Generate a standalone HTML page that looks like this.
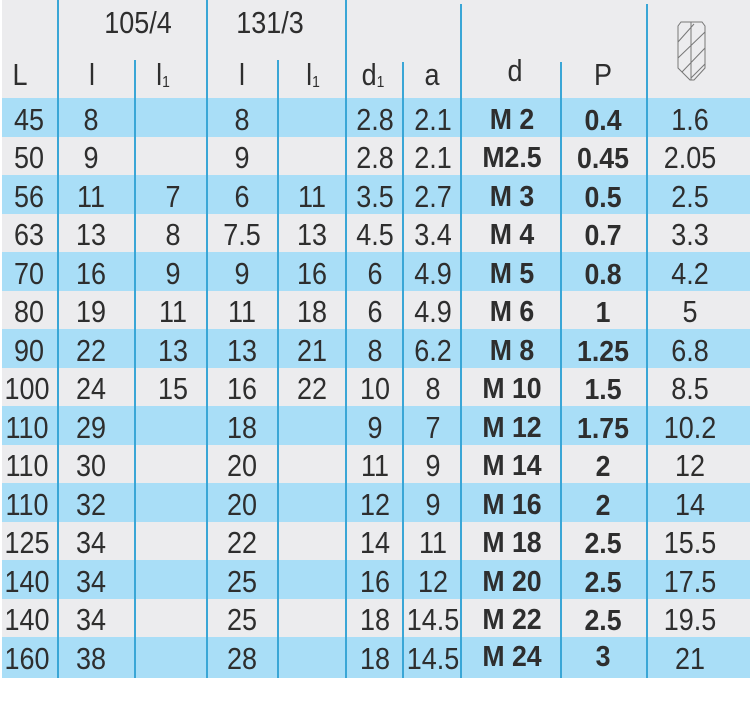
<!DOCTYPE html>
<html><head><meta charset="utf-8"><style>
body{margin:0;width:750px;height:702px;background:#fff;overflow:hidden;position:relative;font-family:"Liberation Sans",sans-serif;color:#2e2e2e}
.bg{position:absolute;left:2px;width:748px}
.v{position:absolute;width:2px;background:#3aa6d6}
.t{position:absolute;width:100px;text-align:center;font-size:31px;line-height:38px;height:38px;transform:scaleX(0.87)}
.b{font-weight:bold;font-size:29px;transform:scaleX(0.92)}
sub{font-size:16px;vertical-align:baseline;position:relative;top:2px}
</style></head><body>
<div class="bg" style="top:0;height:98px;background:#ececee"></div>
<div class="bg" style="top:98px;height:39px;background:#a9def7"></div>
<div class="bg" style="top:137px;height:38px;background:#ececee"></div>
<div class="bg" style="top:175px;height:39px;background:#a9def7"></div>
<div class="bg" style="top:214px;height:38px;background:#ececee"></div>
<div class="bg" style="top:252px;height:39px;background:#a9def7"></div>
<div class="bg" style="top:291px;height:38px;background:#ececee"></div>
<div class="bg" style="top:329px;height:39px;background:#a9def7"></div>
<div class="bg" style="top:368px;height:38px;background:#ececee"></div>
<div class="bg" style="top:406px;height:39px;background:#a9def7"></div>
<div class="bg" style="top:445px;height:38px;background:#ececee"></div>
<div class="bg" style="top:483px;height:39px;background:#a9def7"></div>
<div class="bg" style="top:522px;height:38px;background:#ececee"></div>
<div class="bg" style="top:560px;height:39px;background:#a9def7"></div>
<div class="bg" style="top:599px;height:38px;background:#ececee"></div>
<div class="bg" style="top:637px;height:41px;background:#a9def7"></div>

<div class="v" style="left:57px;top:0;height:678px"></div>
<div class="v" style="left:134px;top:60px;height:618px"></div>
<div class="v" style="left:206px;top:0;height:678px"></div>
<div class="v" style="left:277px;top:60px;height:618px"></div>
<div class="v" style="left:345px;top:0;height:678px"></div>
<div class="v" style="left:402px;top:62px;height:616px"></div>
<div class="v" style="left:460px;top:4px;height:674px"></div>
<div class="v" style="left:560px;top:62px;height:616px"></div>
<div class="v" style="left:646px;top:4px;height:674px"></div>

<div class="t" style="left:88px;top:4px">105/4</div>
<div class="t" style="left:220px;top:4px">131/3</div>
<div class="t" style="left:-30px;top:56px">L</div>
<div class="t" style="left:42px;top:56px">l</div>
<div class="t" style="left:113px;top:56px">l<sub>1</sub></div>
<div class="t" style="left:192px;top:56px">l</div>
<div class="t" style="left:263px;top:56px">l<sub>1</sub></div>
<div class="t" style="left:323px;top:56px">d<sub>1</sub></div>
<div class="t" style="left:382px;top:56px">a</div>
<div class="t" style="left:465px;top:52px">d</div>
<div class="t" style="left:553px;top:56px">P</div>
<svg style="position:absolute;left:676px;top:20px" width="32" height="64" viewBox="0 0 32 64" fill="none" stroke="#777" stroke-width="1">
<path d="M2 6 L2 48 L14 60 L18 60 L29 48 L29 6 L26 2 L5 2 Z"/>
<path d="M15 2 L15 60"/><path d="M2 22 L18 4"/><path d="M2 38 L29 12"/><path d="M6 52 L29 28"/><path d="M15 58 L29 44"/>
</svg>

<div style="position:absolute;left:0;top:0">
<div class="t" style="left:-21px;top:101px">45</div><div class="t" style="left:41px;top:101px">8</div><div class="t" style="left:192px;top:101px">8</div><div class="t" style="left:325px;top:101px">2.8</div><div class="t" style="left:383px;top:101px">2.1</div><div class="t b" style="left:462px;top:101px">M 2</div><div class="t b" style="left:553px;top:102px">0.4</div><div class="t" style="left:640px;top:101px">1.6</div>
<div class="t" style="left:-21px;top:139px">50</div><div class="t" style="left:41px;top:139px">9</div><div class="t" style="left:192px;top:139px">9</div><div class="t" style="left:325px;top:139px">2.8</div><div class="t" style="left:383px;top:139px">2.1</div><div class="t b" style="left:462px;top:139px">M2.5</div><div class="t b" style="left:553px;top:140px">0.45</div><div class="t" style="left:640px;top:139px">2.05</div>
<div class="t" style="left:-21px;top:178px">56</div><div class="t" style="left:41px;top:178px">11</div><div class="t" style="left:123px;top:178px">7</div><div class="t" style="left:192px;top:178px">6</div><div class="t" style="left:262px;top:178px">11</div><div class="t" style="left:325px;top:178px">3.5</div><div class="t" style="left:383px;top:178px">2.7</div><div class="t b" style="left:462px;top:178px">M 3</div><div class="t b" style="left:553px;top:179px">0.5</div><div class="t" style="left:640px;top:178px">2.5</div>
<div class="t" style="left:-21px;top:216px">63</div><div class="t" style="left:41px;top:216px">13</div><div class="t" style="left:123px;top:216px">8</div><div class="t" style="left:192px;top:216px">7.5</div><div class="t" style="left:262px;top:216px">13</div><div class="t" style="left:325px;top:216px">4.5</div><div class="t" style="left:383px;top:216px">3.4</div><div class="t b" style="left:462px;top:216px">M 4</div><div class="t b" style="left:553px;top:217px">0.7</div><div class="t" style="left:640px;top:216px">3.3</div>
<div class="t" style="left:-21px;top:255px">70</div><div class="t" style="left:41px;top:255px">16</div><div class="t" style="left:123px;top:255px">9</div><div class="t" style="left:192px;top:255px">9</div><div class="t" style="left:262px;top:255px">16</div><div class="t" style="left:325px;top:255px">6</div><div class="t" style="left:383px;top:255px">4.9</div><div class="t b" style="left:462px;top:255px">M 5</div><div class="t b" style="left:553px;top:256px">0.8</div><div class="t" style="left:640px;top:255px">4.2</div>
<div class="t" style="left:-21px;top:293px">80</div><div class="t" style="left:41px;top:293px">19</div><div class="t" style="left:123px;top:293px">11</div><div class="t" style="left:192px;top:293px">11</div><div class="t" style="left:262px;top:293px">18</div><div class="t" style="left:325px;top:293px">6</div><div class="t" style="left:383px;top:293px">4.9</div><div class="t b" style="left:462px;top:293px">M 6</div><div class="t b" style="left:553px;top:294px">1</div><div class="t" style="left:640px;top:293px">5</div>
<div class="t" style="left:-21px;top:332px">90</div><div class="t" style="left:41px;top:332px">22</div><div class="t" style="left:123px;top:332px">13</div><div class="t" style="left:192px;top:332px">13</div><div class="t" style="left:262px;top:332px">21</div><div class="t" style="left:325px;top:332px">8</div><div class="t" style="left:383px;top:332px">6.2</div><div class="t b" style="left:462px;top:332px">M 8</div><div class="t b" style="left:553px;top:333px">1.25</div><div class="t" style="left:640px;top:332px">6.8</div>
<div class="t" style="left:-23px;top:370px">100</div><div class="t" style="left:41px;top:370px">24</div><div class="t" style="left:123px;top:370px">15</div><div class="t" style="left:192px;top:370px">16</div><div class="t" style="left:262px;top:370px">22</div><div class="t" style="left:325px;top:370px">10</div><div class="t" style="left:383px;top:370px">8</div><div class="t b" style="left:462px;top:370px">M 10</div><div class="t b" style="left:553px;top:371px">1.5</div><div class="t" style="left:640px;top:370px">8.5</div>
<div class="t" style="left:-23px;top:409px">110</div><div class="t" style="left:41px;top:409px">29</div><div class="t" style="left:192px;top:409px">18</div><div class="t" style="left:325px;top:409px">9</div><div class="t" style="left:383px;top:409px">7</div><div class="t b" style="left:462px;top:409px">M 12</div><div class="t b" style="left:553px;top:410px">1.75</div><div class="t" style="left:640px;top:409px">10.2</div>
<div class="t" style="left:-23px;top:447px">110</div><div class="t" style="left:41px;top:447px">30</div><div class="t" style="left:192px;top:447px">20</div><div class="t" style="left:325px;top:447px">11</div><div class="t" style="left:383px;top:447px">9</div><div class="t b" style="left:462px;top:447px">M 14</div><div class="t b" style="left:553px;top:448px">2</div><div class="t" style="left:640px;top:447px">12</div>
<div class="t" style="left:-23px;top:486px">110</div><div class="t" style="left:41px;top:486px">32</div><div class="t" style="left:192px;top:486px">20</div><div class="t" style="left:325px;top:486px">12</div><div class="t" style="left:383px;top:486px">9</div><div class="t b" style="left:462px;top:486px">M 16</div><div class="t b" style="left:553px;top:487px">2</div><div class="t" style="left:640px;top:486px">14</div>
<div class="t" style="left:-23px;top:524px">125</div><div class="t" style="left:41px;top:524px">34</div><div class="t" style="left:192px;top:524px">22</div><div class="t" style="left:325px;top:524px">14</div><div class="t" style="left:383px;top:524px">11</div><div class="t b" style="left:462px;top:524px">M 18</div><div class="t b" style="left:553px;top:525px">2.5</div><div class="t" style="left:640px;top:524px">15.5</div>
<div class="t" style="left:-23px;top:563px">140</div><div class="t" style="left:41px;top:563px">34</div><div class="t" style="left:192px;top:563px">25</div><div class="t" style="left:325px;top:563px">16</div><div class="t" style="left:383px;top:563px">12</div><div class="t b" style="left:462px;top:563px">M 20</div><div class="t b" style="left:553px;top:564px">2.5</div><div class="t" style="left:640px;top:563px">17.5</div>
<div class="t" style="left:-23px;top:601px">140</div><div class="t" style="left:41px;top:601px">34</div><div class="t" style="left:192px;top:601px">25</div><div class="t" style="left:325px;top:601px">18</div><div class="t" style="left:383px;top:601px">14.5</div><div class="t b" style="left:462px;top:601px">M 22</div><div class="t b" style="left:553px;top:602px">2.5</div><div class="t" style="left:640px;top:601px">19.5</div>
<div class="t" style="left:-23px;top:640px">160</div><div class="t" style="left:41px;top:640px">38</div><div class="t" style="left:192px;top:640px">28</div><div class="t" style="left:325px;top:640px">18</div><div class="t" style="left:383px;top:640px">14.5</div><div class="t b" style="left:462px;top:638px">M 24</div><div class="t b" style="left:553px;top:638px">3</div><div class="t" style="left:640px;top:640px">21</div>
</div>
</body></html>
